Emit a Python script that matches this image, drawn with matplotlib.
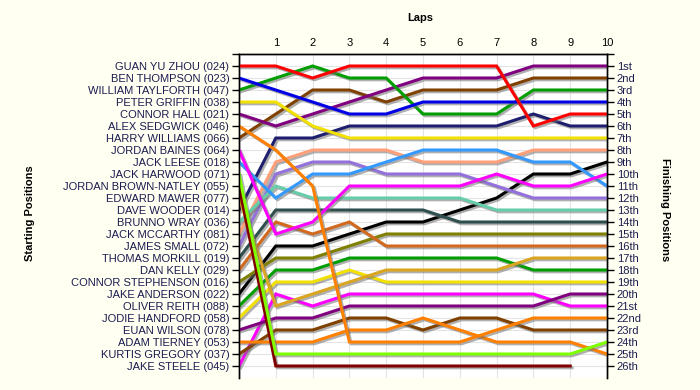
import matplotlib
matplotlib.use("Agg")
import matplotlib.pyplot as plt
import matplotlib.patheffects as pe

drivers = ["GUAN YU ZHOU (024)", "BEN THOMPSON (023)", "WILLIAM TAYLFORTH (047)",
           "PETER GRIFFIN (038)", "CONNOR HALL (021)", "ALEX SEDGWICK (046)",
           "HARRY WILLIAMS (066)", "JORDAN BAINES (064)", "JACK LEESE (018)",
           "JACK HARWOOD (071)", "JORDAN BROWN-NATLEY (055)", "EDWARD MAWER (077)",
           "DAVE WOODER (014)", "BRUNNO WRAY (036)", "JACK MCCARTHY (081)",
           "JAMES SMALL (072)", "THOMAS MORKILL (019)", "DAN KELLY (029)",
           "CONNOR STEPHENSON (016)", "JAKE ANDERSON (022)", "OLIVER REITH (088)",
           "JODIE HANDFORD (058)", "EUAN WILSON (078)", "ADAM TIERNEY (053)",
           "KURTIS GREGORY (037)", "JAKE STEELE (045)"]

finish_labels = ["1st", "2nd", "3rd", "4th", "5th", "6th", "7th", "8th", "9th", "10th",
                 "11th", "12th", "13th", "14th", "15th", "16th", "17th", "18th", "19th",
                 "20th", "21st", "22nd", "23rd", "24th", "25th", "26th"]

laps = list(range(0, 11))

# positions per driver (lap 0 = start)
positions = [
    [1, 1, 2, 1, 1, 1, 1, 1, 6, 5, 5],
    [2, 3, 4, 5, 5, 4, 4, 4, 4, 4, 4],
    [3, 2, 1, 2, 2, 5, 5, 5, 3, 3, 3],
    [4, 4, 6, 7, 7, 7, 7, 7, 7, 7, 7],
    [5, 6, 5, 4, 3, 2, 2, 2, 1, 1, 1],
    [6, 8, 11, 24, 24, 24, 24, 23, 22, 22, 22],
    [7, 5, 3, 3, 4, 3, 3, 3, 2, 2, 2],
    [8, 15, 14, 11, 11, 11, 11, 10, 11, 11, 10],
    [9, 12, 10, 10, 9, 8, 8, 8, 9, 9, 11],
    [10, 25, 25, 25, 25, 25, 25, 25, 25, 25, 24],
    [11, 26, 26, 26, 26, 26, 26, 26, 26, 26],
    [12, 21, 20, 19, 18, 18, 18, 18, 17, 17, 17],
    [13, 7, 7, 6, 6, 6, 6, 6, 5, 6, 6],
    [14, 11, 12, 12, 12, 12, 12, 13, 13, 13, 13],
    [15, 9, 8, 8, 8, 9, 9, 9, 8, 8, 8],
    [16, 10, 9, 9, 10, 10, 10, 11, 12, 12, 12],
    [17, 13, 13, 13, 13, 13, 14, 14, 14, 14, 14],
    [18, 14, 15, 14, 16, 16, 16, 16, 16, 16, 16],
    [19, 17, 17, 16, 15, 15, 15, 15, 15, 15, 15],
    [20, 16, 16, 15, 14, 14, 13, 12, 10, 10, 9],
    [21, 18, 18, 17, 17, 17, 17, 17, 18, 18, 18],
    [22, 19, 19, 18, 19, 19, 19, 19, 19, 19, 19],
    [23, 22, 22, 21, 21, 21, 21, 21, 21, 20, 20],
    [24, 24, 24, 23, 23, 22, 23, 24, 24, 24, 25],
    [25, 23, 23, 22, 22, 23, 22, 22, 23, 23, 23],
    [26, 20, 21, 20, 20, 20, 20, 20, 20, 21, 21],
]

colors = ["#FF0000", "#0000E6", "#009E00", "#F2E000", "#800080", "#FF8000",
          "#7F4000", "#FF00FF", "#3399FF", "#80FF00", "#800000", "#DAA520",
          "#1E1E6E", "#66CDAA", "#FFA07A", "#9370DB", "#2F4F4F", "#D2691E",
          "#808000", "#000000", "#009E00", "#F2E000", "#800080", "#FF8000",
          "#7F4000", "#FF00FF"]

txt_color = "#1C1C50"

fig = plt.figure(figsize=(7.0, 3.9), dpi=100, facecolor="#FFFFF2")
ax = fig.add_axes([239 / 700, 12 / 390, 368 / 700, 324 / 390])
ax.set_facecolor("white")

for lap in laps:
    ax.axvline(lap, color="#E4E4E4", lw=0.8, zorder=0)
for p in range(1, 27):
    ax.axhline(p, color="#E4E4E4", lw=0.8, zorder=0)

shadow = [pe.SimpleLineShadow(offset=(1.3, -1.3), shadow_color="#707070", alpha=0.55),
          pe.Normal()]
for i in range(len(drivers) - 1, -1, -1):
    pos = positions[i]
    ax.plot(laps[:len(pos)], pos, color=colors[i], lw=2.2, zorder=3,
            path_effects=shadow, solid_joinstyle="miter")

ax.set_xlim(0, 10)
ax.set_ylim(27, 0)

ax.set_xticks(laps)
ax.set_xticklabels([""] + [str(l) for l in laps[1:]], fontsize=8, family="Liberation Sans",
                   color="black")
ax.xaxis.tick_top()
ax.tick_params(axis="x", length=0, pad=4)

ax.set_yticks(range(0, 27))
ax.set_yticklabels([""] + drivers, fontsize=8, family="Liberation Sans", color=txt_color)
ax.tick_params(axis="y", length=5, width=1, pad=2, color="black")

ax2 = ax.twinx()
ax2.set_ylim(27, 0)
ax2.set_yticks(range(0, 27))
ax2.set_yticklabels([""] + finish_labels, fontsize=8, family="Liberation Sans", color=txt_color)
ax2.tick_params(axis="y", length=5, width=1, pad=2, color="black")

for a in (ax, ax2):
    for side in ("left", "right", "top"):
        a.spines[side].set_color("black")
        a.spines[side].set_linewidth(1)
    a.spines["bottom"].set_visible(False)

fig.text(420 / 700, 1 - 18 / 390, "Laps", ha="center", va="center", fontsize=8,
         fontweight="bold", family="Liberation Sans")
fig.text(30 / 700, 1 - 213 / 390, "Starting Positions", ha="center", va="center",
         rotation=90, fontsize=8, fontweight="bold", family="Liberation Sans")
fig.text(665 / 700, 1 - 210 / 390, "Finishing Positions", ha="center", va="center",
         rotation=270, fontsize=8, fontweight="bold", family="Liberation Sans")

fig.savefig("out.png", dpi=100, facecolor=fig.get_facecolor())
